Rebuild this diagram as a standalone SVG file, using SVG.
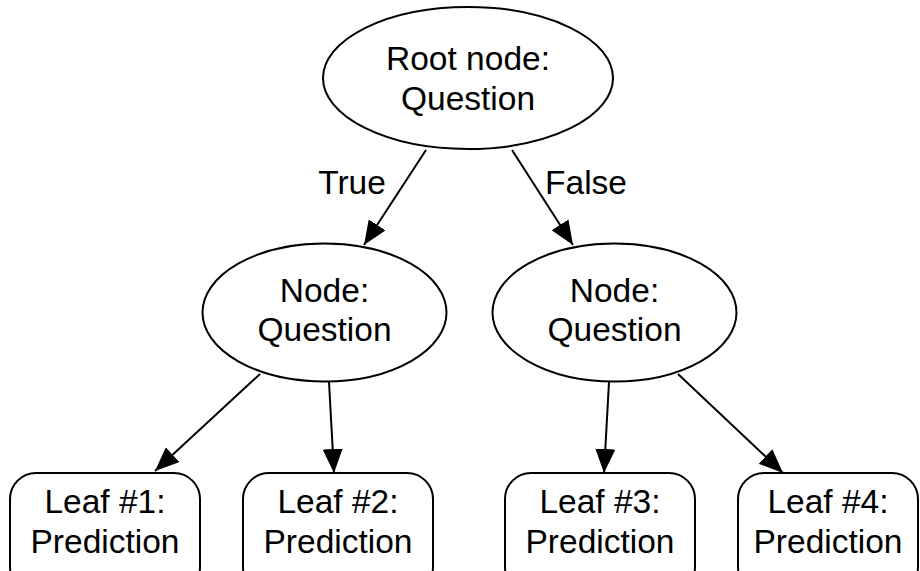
<svg xmlns="http://www.w3.org/2000/svg" width="920" height="571" viewBox="0 0 920 571">
<style>
.shape{fill:#fff;stroke:#000;stroke-width:2}
.t{font-family:"Liberation Sans",Arial,sans-serif;font-size:33.5px;fill:#000;text-anchor:middle}
.edge{stroke:#000;stroke-width:2;fill:none;marker-end:url(#arr)}
</style>
<defs>
<marker id="arr" markerUnits="userSpaceOnUse" markerWidth="26" markerHeight="20" refX="24" refY="10" orient="auto" viewBox="0 0 26 20">
<path d="M0,0 L24,10 L0,20 z" fill="#000"/>
</marker>
</defs>
<rect width="920" height="571" fill="#fff"/>
<g id="connectors">
<line class="edge" x1="426" y1="150" x2="364" y2="245"/>
<line class="edge" x1="512" y1="150" x2="573" y2="245"/>
<line class="edge" x1="260" y1="374" x2="155" y2="471"/>
<line class="edge" x1="329" y1="382" x2="334" y2="473"/>
<line class="edge" x1="609" y1="382" x2="604" y2="473"/>
<line class="edge" x1="678" y1="374" x2="783" y2="473"/>
<text class="t" x="352" y="194">True</text>
<text class="t" x="586" y="194">False</text>
</g>
<g id="root">
<ellipse class="shape" cx="468" cy="78" rx="145" ry="71"/>
<text class="t" x="468" y="70">Root node:</text>
<text class="t" x="468" y="110">Question</text>
</g>
<g id="nodeL">
<ellipse class="shape" cx="324.5" cy="312.5" rx="122" ry="69"/>
<text class="t" x="324.5" y="302">Node:</text>
<text class="t" x="324.5" y="341">Question</text>
</g>
<g id="nodeR">
<ellipse class="shape" cx="614.5" cy="312.5" rx="122" ry="69"/>
<text class="t" x="614.5" y="302">Node:</text>
<text class="t" x="614.5" y="341">Question</text>
</g>
<g id="leaf1">
<rect class="shape" x="10" y="473" width="190" height="120" rx="26"/>
<text class="t" x="105" y="513">Leaf #1:</text>
<text class="t" x="105" y="553">Prediction</text>
</g>
<g id="leaf2">
<rect class="shape" x="243" y="473" width="190" height="120" rx="26"/>
<text class="t" x="338" y="513">Leaf #2:</text>
<text class="t" x="338" y="553">Prediction</text>
</g>
<g id="leaf3">
<rect class="shape" x="505" y="473" width="190" height="120" rx="26"/>
<text class="t" x="600" y="513">Leaf #3:</text>
<text class="t" x="600" y="553">Prediction</text>
</g>
<g id="leaf4">
<rect class="shape" x="738" y="473" width="180" height="120" rx="26"/>
<text class="t" x="828" y="513">Leaf #4:</text>
<text class="t" x="828" y="553">Prediction</text>
</g>
</svg>
